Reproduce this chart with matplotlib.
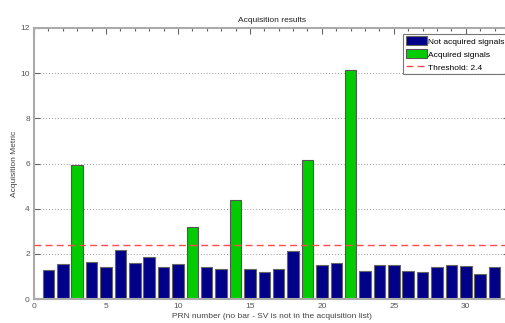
import matplotlib
matplotlib.use('Agg')
import matplotlib.pyplot as plt
from matplotlib.ticker import MultipleLocator

plt.rcParams['font.family'] = ['Liberation Sans', 'DejaVu Sans']

prn = list(range(1, 33))
metric = [1.30, 1.55, 5.94, 1.65, 1.40, 2.18, 1.59, 1.87, 1.41, 1.55,
          3.17, 1.43, 1.33, 4.37, 1.34, 1.19, 1.34, 2.14, 6.14, 1.49,
          1.58, 10.12, 1.22, 1.49, 1.52, 1.24, 1.19, 1.43, 1.49, 1.46,
          1.09, 1.40]
acquired = [3, 11, 14, 19, 22]
threshold = 2.4

fig = plt.figure(figsize=(5.05, 3.23), dpi=100)
ax = fig.add_axes([34 / 505, 24 / 323, 475 / 505, 271 / 323])

not_x = [p for p in prn if p not in acquired]
not_y = [metric[p - 1] for p in not_x]
acq_y = [metric[p - 1] for p in acquired]

b1 = ax.bar(not_x, not_y, width=0.8, color='#000088', edgecolor='#666666', linewidth=0.8,
            label='Not acquired signals', zorder=2)
b2 = ax.bar(acquired, acq_y, width=0.8, color='#00cc00', edgecolor='#555555', linewidth=0.8,
            label='Acquired signals', zorder=2)
th = ax.axhline(threshold, color='#ff4d4d', linestyle=(0, (5, 3)), linewidth=1,
                label='Threshold: 2.4', zorder=3)

ax.set_xlim(0, 33)
ax.set_ylim(0, 12)
ax.xaxis.set_major_locator(MultipleLocator(5))
ax.xaxis.set_minor_locator(MultipleLocator(1))
ax.yaxis.set_major_locator(MultipleLocator(2))
ax.tick_params(which='both', direction='in', top=True, right=True,
               labelsize=6, colors='#666666', labelcolor='#555555', pad=3)
ax.tick_params(which='major', length=4, width=0.8)
ax.tick_params(which='minor', length=2, width=0.8)
ax.yaxis.grid(True, linestyle=(0, (1, 2)), color='#999999', linewidth=0.7, zorder=0)
for s in ax.spines.values():
    s.set_color('#aaaaaa')
    s.set_linewidth(1.5)

ax.set_title('Acquisition results', fontsize=6, color='#222222', pad=4)
ax.set_xlabel('PRN number (no bar - SV is not in the acquisition list)', fontsize=6,
              color='#444444', labelpad=2)
ax.set_ylabel('Acquisition Metric', fontsize=6, color='#444444', labelpad=2)

leg = ax.legend(handles=[b1, b2, th], loc='upper right', bbox_to_anchor=(1.0, 0.985),
                fontsize=6, frameon=True, fancybox=False, borderpad=0.3,
                labelspacing=0.45, handlelength=2.5, handleheight=1.3,
                handletextpad=0.2, borderaxespad=0.2)
leg.get_frame().set_edgecolor('#555555')
leg.get_frame().set_linewidth(0.8)

fig.savefig('out.png', dpi=100)
